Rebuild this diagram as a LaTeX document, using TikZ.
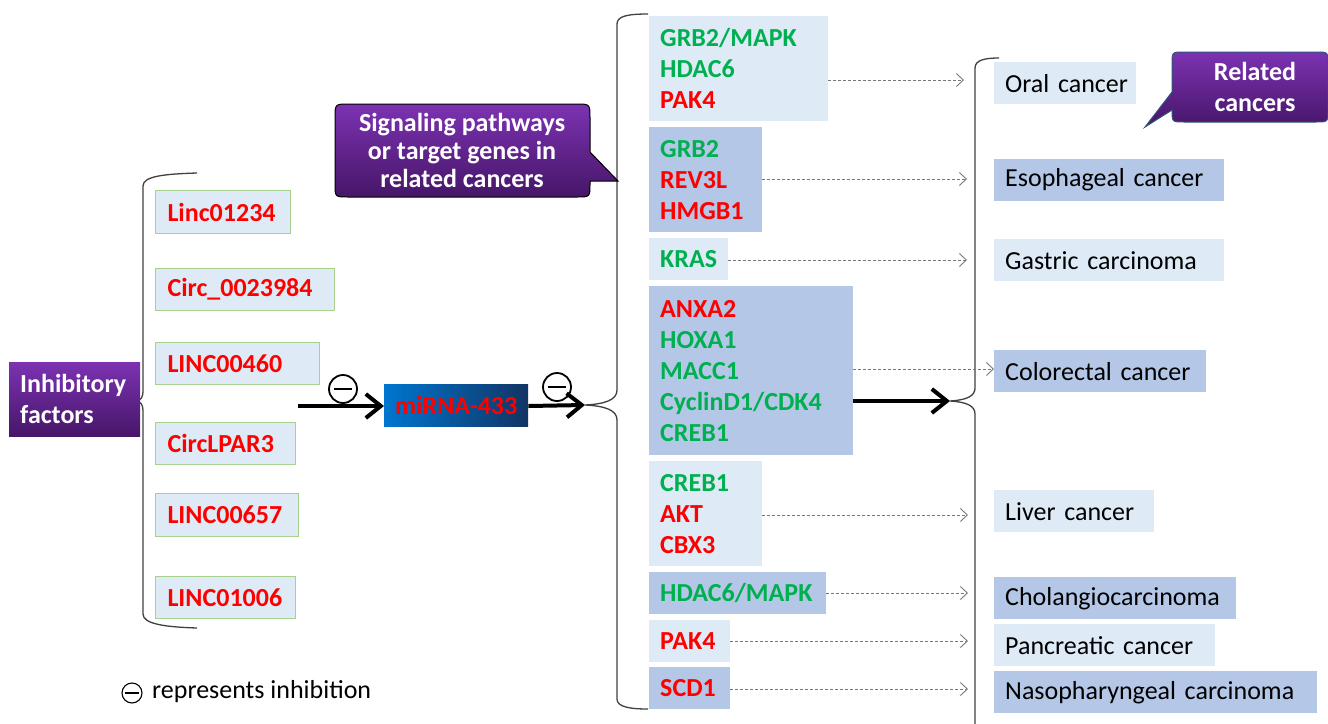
\documentclass[tikz,border=0pt]{standalone}
\usepackage{fontspec}
\setmainfont{Carlito}
\usetikzlibrary{arrows.meta}
\definecolor{myred}{RGB}{255,0,0}
\definecolor{mygreen}{RGB}{0,176,80}
\definecolor{lightfill}{RGB}{222,235,247}
\definecolor{darkfill}{RGB}{180,199,231}
\definecolor{gborder}{RGB}{169,209,142}
\definecolor{purpletop}{RGB}{124,50,178}
\definecolor{purplebot}{RGB}{70,22,104}
\definecolor{bracecol}{RGB}{64,64,64}
\definecolor{dashcol}{RGB}{120,120,120}
\definecolor{blueL}{RGB}{0,118,206}
\definecolor{blueR}{RGB}{18,52,100}
\definecolor{callborder}{RGB}{47,85,120}
\newcommand{\R}[1]{{\color{myred}#1}}
\newcommand{\G}[1]{{\color{mygreen}#1}}
\tikzset{
  x=1pt, y=-1pt,
  txt/.style={font=\fontsize{26}{31}\selectfont},
  btxt/.style={font=\bfseries\fontsize{26}{31}\selectfont},
  leftbox/.style={btxt, text=myred, fill=lightfill, draw=gborder, line width=1, anchor=north west, inner xsep=12, inner ysep=0, align=left},
  midlight/.style={btxt, fill=lightfill, anchor=north west, inner xsep=11, inner ysep=0, align=left},
  middark/.style={btxt, fill=darkfill, anchor=north west, inner xsep=11, inner ysep=0, align=left},
  canlight/.style={txt, fill=lightfill, anchor=north west, inner xsep=11, inner ysep=0, align=left},
  candark/.style={txt, fill=darkfill, anchor=north west, inner xsep=11, inner ysep=0, align=left},
  bracepath/.style={draw=bracecol, line width=1.3},
  thickarrow/.style={line width=4, -{Straight Barb[length=15, width=24, line width=4]}},
  dasharrow/.style={draw=dashcol, line width=0.9, dash pattern=on 3 off 2, -{Straight Barb[length=7, width=13, line width=0.9]}},
  inhib/.style={circle, draw, line width=1.8, minimum size=28, inner sep=0,
    path picture={\draw[line width=1.8] ([xshift=-9]path picture bounding box.center) -- ([xshift=9]path picture bounding box.center);}},
  callout/.style={draw=black, line width=1, top color=purpletop, bottom color=purplebot},
}
\begin{document}
\begin{tikzpicture}
\useasboundingbox (0,0) rectangle (1328,723);

% ---------- braces ----------
\path[bracepath] (197,173) .. controls (165,174) and (143,176) .. (143,186) -- (143,390)
  .. controls (143,398) and (141,400) .. (136,401) .. controls (141,402) and (143,404) .. (143,412)
  -- (143,614) .. controls (143,624) and (165,627) .. (197,628);
\path[bracepath] (648,14) .. controls (628,14) and (617,16) .. (617,24) -- (617,390)
  .. controls (617,400) and (605,404) .. (585,405) .. controls (605,406) and (617,410) .. (617,420)
  -- (617,699) .. controls (617,707) and (630,709) .. (648,709);
\path[bracepath] (999,58) .. controls (985,58) and (975,60) .. (975,68) -- (975,388)
  .. controls (975,396) and (967,400) .. (950,401) .. controls (967,402) and (975,406) .. (975,414)
  -- (975,730);

% ---------- left part ----------
\node[anchor=north west, minimum width=131, minimum height=74, inner sep=0, top color=purpletop, bottom color=purplebot] (inh) at (9,362) {};
\node[btxt, text=white, anchor=west, align=left, inner sep=0] (inhtxt) at (20,399) {Inhibitory\\factors};

\node[leftbox, minimum height=43, text width=111] (l1) at (155,190) {\mbox{Linc01234}};
\node[leftbox, minimum height=42, text width=155] (l2) at (155,268) {\mbox{Circ\_0023984}};
\node[leftbox, minimum height=42, text width=140] (l3) at (155,342) {\mbox{LINC00460}};
\node[leftbox, minimum height=42, text width=116] (l4) at (155,422) {\mbox{CircLPAR3}};
\node[leftbox, minimum height=43, text width=119] (l5) at (155,493) {\mbox{LINC00657}};
\node[leftbox, minimum height=42, text width=116] (l6) at (155,576) {\mbox{LINC01006}};

% ---------- miRNA ----------
\node[btxt, text=myred, anchor=north west, minimum width=144, minimum height=42, inner sep=0, left color=blueL, right color=blueR] (mir) at (384,384) {miRNA-433};
\coordinate (start) at (298,406);
\coordinate (tipB) at (585,405);
\draw[thickarrow] (start) -- (mir.west |- start);
\draw[thickarrow] (mir.east |- start) -- (tipB);
\node[inhib] (inh1) at (343,389) {};
\node[inhib] (inh2) at (557,387) {};

% ---------- callout 1 ----------
\path[callout] (349,104) -- (576,104) .. controls (590,104) .. (590,118) -- (590,152) -- (618,181) -- (590,181) -- (590,184) .. controls (590,197) .. (577,197) -- (348,197) .. controls (335,197) .. (335,184) -- (335,118) .. controls (335,104) .. (349,104) -- cycle;
\node[font=\bfseries\fontsize{26}{28}\selectfont, text=white, align=center, inner sep=0] (co1) at (462,150) {Signaling pathways\\or target genes in\\related cancers};

% ---------- middle boxes ----------
\node[midlight, minimum height=105, text width=157] (m1) at (649,16) {\G{GRB2/MAPK}\\\G{HDAC6}\\\R{PAK4}};
\node[middark, minimum height=105, text width=91] (m2) at (649,127) {\G{GRB2}\\\R{REV3L}\\\R{HMGB1}};
\node[midlight, minimum height=42, text width=57] (m3) at (649,238) {\G{\mbox{KRAS}}};
\node[middark, minimum height=169, text width=182] (m4) at (649,286) {\R{ANXA2}\\\G{HOXA1}\\\G{MACC1}\\\G{\mbox{CyclinD1/CDK4}}\\\G{CREB1}};
\node[midlight, minimum height=105, text width=91] (m5) at (649,461) {\G{CREB1}\\\R{AKT}\\\R{CBX3}};
\node[middark, minimum height=42, text width=155] (m6) at (649,572) {\G{\mbox{HDAC6/MAPK}}};
\node[midlight, minimum height=42, text width=59] (m7) at (649,620) {\R{\mbox{PAK4}}};
\node[middark, minimum height=42, text width=59] (m8) at (649,667) {\R{\mbox{SCD1}}};

% ---------- cancers ----------
\node[canlight, minimum height=42, text width=120] (c1) at (994,62) {\mbox{Oral cancer}};
\node[candark, minimum height=42, text width=208] (c2) at (994,159) {\mbox{Esophageal cancer}};
\node[canlight, minimum height=42, text width=208] (c3) at (994,239) {\mbox{Gastric carcinoma}};
\node[candark, minimum height=42, text width=190] (c4) at (994,350) {\mbox{Colorectal cancer}};
\node[canlight, minimum height=42, text width=138] (c5) at (994,490) {\mbox{Liver cancer}};
\node[candark, minimum height=42, text width=220] (c6) at (994,577) {\mbox{Cholangiocarcinoma}};
\node[canlight, minimum height=42, text width=199] (c7) at (994,624) {\mbox{Pancreatic cancer}};
\node[candark, minimum height=42, text width=301] (c8) at (994,671) {\mbox{Nasopharyngeal carcinoma}};

% ---------- callout 2 ----------
\path[callout, draw=callborder] (1184,52) -- (1316,52) .. controls (1328,52) .. (1328,64) -- (1328,110) .. controls (1328,122) .. (1316,122) -- (1184,122) .. controls (1172,122) .. (1172,110) -- (1145,127) -- (1172,92) -- (1172,64) .. controls (1172,52) .. (1184,52) -- cycle;
\node[btxt, text=white, align=center, inner sep=0] (co2) at (1255,87) {Related\\cancers};

% ---------- arrows to cancers ----------
\coordinate (d1) at (964,80);
\coordinate (d2) at (967,179);
\coordinate (d3) at (967,260);
\coordinate (d4) at (0,369);
\coordinate (d5) at (968,515);
\coordinate (d6) at (968,593);
\coordinate (d7) at (968,641);
\coordinate (d8) at (968,689);
\draw[dasharrow] (m1.east |- d1) -- (d1);
\draw[dasharrow] (m2.east |- d2) -- (d2);
\draw[dasharrow] (m3.east |- d3) -- (d3);
\draw[dasharrow] (m4.east |- d4) -- (c4.west |- d4);
\draw[dasharrow] (m5.east |- d5) -- (d5);
\draw[dasharrow] (m6.east |- d6) -- (d6);
\draw[dasharrow] (m7.east |- d7) -- (d7);
\draw[dasharrow] (m8.east |- d8) -- (d8);
\coordinate (tipC) at (950,401);
\draw[thickarrow] (m4.east |- tipC) -- (tipC);

% ---------- legend ----------
\node[circle, draw, line width=1.1, minimum size=20, inner sep=0,
  path picture={\draw[line width=1.1] ([xshift=-7]path picture bounding box.center) -- ([xshift=7]path picture bounding box.center);}] (leg) at (132,693) {};
\node[txt, anchor=west, inner sep=0] (legtxt) at (152,692) {represents inhibition};
\end{tikzpicture}
\end{document}
